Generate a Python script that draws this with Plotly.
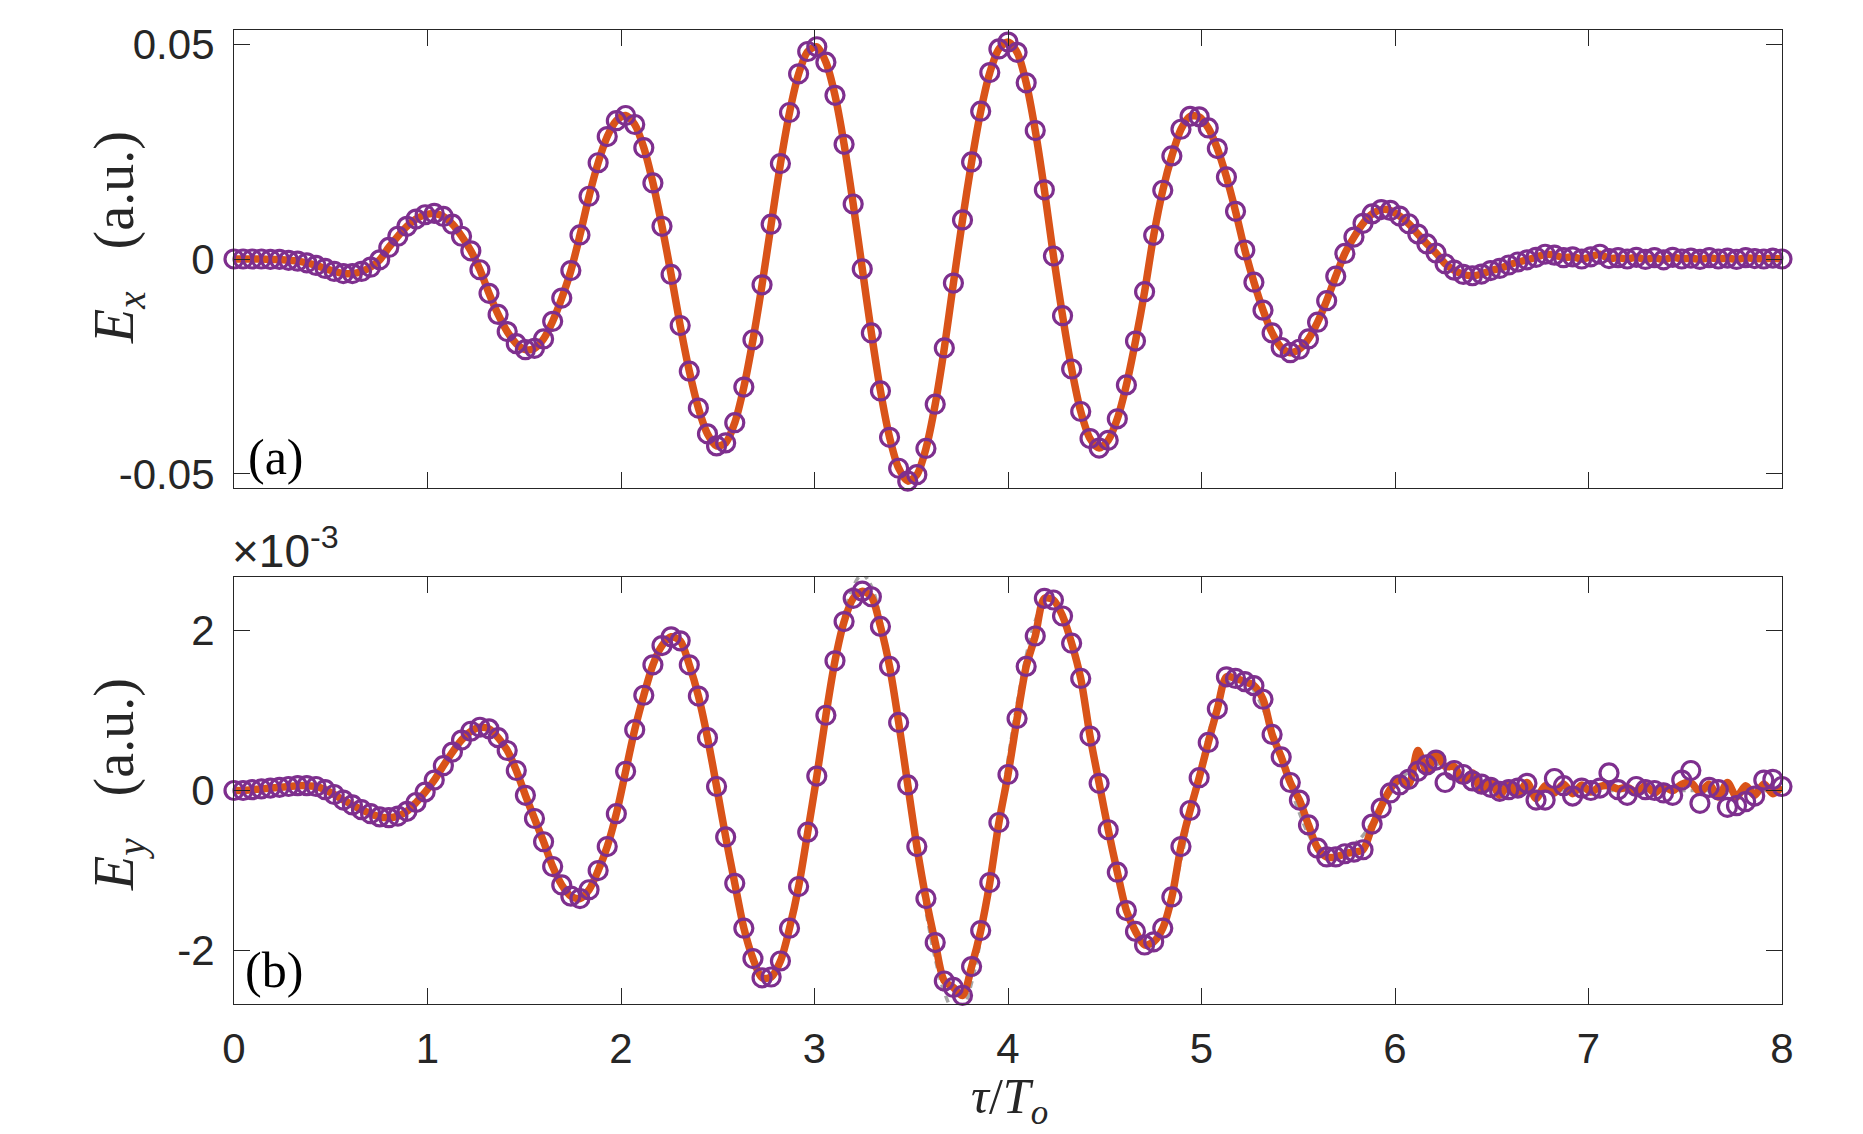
import plotly.graph_objects as go

# ---------------- data ----------------
# delay tau / T_o (uniform sampling, 171 samples)
tau = [
    0.000, 0.047, 0.094, 0.141, 0.188, 0.235, 0.282, 0.329, 0.376, 0.424,
    0.471, 0.518, 0.565, 0.612, 0.659, 0.706, 0.753, 0.800, 0.847, 0.894,
    0.941, 0.988, 1.035, 1.082, 1.129, 1.176, 1.224, 1.271, 1.318, 1.365,
    1.412, 1.459, 1.506, 1.553, 1.600, 1.647, 1.694, 1.741, 1.788, 1.835,
    1.882, 1.929, 1.976, 2.024, 2.071, 2.118, 2.165, 2.212, 2.259, 2.306,
    2.353, 2.400, 2.447, 2.494, 2.541, 2.588, 2.635, 2.682, 2.729, 2.776,
    2.824, 2.871, 2.918, 2.965, 3.012, 3.059, 3.106, 3.153, 3.200, 3.247,
    3.294, 3.341, 3.388, 3.435, 3.482, 3.529, 3.576, 3.624, 3.671, 3.718,
    3.765, 3.812, 3.859, 3.906, 3.953, 4.000, 4.047, 4.094, 4.141, 4.188,
    4.235, 4.282, 4.329, 4.376, 4.424, 4.471, 4.518, 4.565, 4.612, 4.659,
    4.706, 4.753, 4.800, 4.847, 4.894, 4.941, 4.988, 5.035, 5.082, 5.129,
    5.176, 5.224, 5.271, 5.318, 5.365, 5.412, 5.459, 5.506, 5.553, 5.600,
    5.647, 5.694, 5.741, 5.788, 5.835, 5.882, 5.929, 5.976, 6.024, 6.071,
    6.118, 6.165, 6.212, 6.259, 6.306, 6.353, 6.400, 6.447, 6.494, 6.541,
    6.588, 6.635, 6.682, 6.729, 6.776, 6.824, 6.871, 6.918, 6.965, 7.012,
    7.059, 7.106, 7.153, 7.200, 7.247, 7.294, 7.341, 7.388, 7.435, 7.482,
    7.529, 7.576, 7.624, 7.671, 7.718, 7.765, 7.812, 7.859, 7.906, 7.953,
    8.000,
]

# E_x (a.u.) - measured points (circles); line and theory coincide with it
ex = [
    0.0000, 0.0000, 0.0000, 0.0000, -0.0001, -0.0001, -0.0003, -0.0005, -0.0009, -0.0015,
    -0.0022, -0.0029, -0.0034, -0.0034, -0.0029, -0.0019, -0.0002, 0.0027, 0.0053, 0.0076,
    0.0093, 0.0103, 0.0106, 0.0099, 0.0081, 0.0053, 0.0019, -0.0025, -0.0080, -0.0129,
    -0.0169, -0.0197, -0.0211, -0.0208, -0.0186, -0.0145, -0.0091, -0.0027, 0.0056, 0.0146,
    0.0224, 0.0285, 0.0322, 0.0334, 0.0313, 0.0259, 0.0177, 0.0076, -0.0036, -0.0155,
    -0.0261, -0.0347, -0.0407, -0.0435, -0.0428, -0.0381, -0.0298, -0.0188, -0.0060, 0.0081,
    0.0222, 0.0341, 0.0431, 0.0483, 0.0494, 0.0458, 0.0381, 0.0267, 0.0128, -0.0023,
    -0.0172, -0.0307, -0.0415, -0.0487, -0.0517, -0.0502, -0.0441, -0.0338, -0.0207, -0.0056,
    0.0091, 0.0226, 0.0344, 0.0434, 0.0489, 0.0505, 0.0481, 0.0410, 0.0299, 0.0161,
    0.0007, -0.0132, -0.0256, -0.0355, -0.0418, -0.0440, -0.0422, -0.0372, -0.0293, -0.0191,
    -0.0076, 0.0055, 0.0160, 0.0240, 0.0302, 0.0332, 0.0331, 0.0305, 0.0257, 0.0191,
    0.0111, 0.0021, -0.0054, -0.0119, -0.0172, -0.0206, -0.0218, -0.0210, -0.0186, -0.0147,
    -0.0097, -0.0040, 0.0013, 0.0051, 0.0083, 0.0105, 0.0115, 0.0113, 0.0100, 0.0082,
    0.0058, 0.0035, 0.0014, -0.0011, -0.0026, -0.0036, -0.0039, -0.0035, -0.0027, -0.0022,
    -0.0014, -0.0007, -0.0002, 0.0004, 0.0011, 0.0009, 0.0003, 0.0005, 0.0000, 0.0005,
    0.0011, 0.0001, 0.0003, 0.0000, 0.0004, -0.0001, 0.0003, -0.0002, 0.0004, 0.0000,
    0.0002, -0.0001, 0.0003, 0.0000, 0.0002, -0.0001, 0.0003, 0.0001, 0.0000, 0.0002,
    0.0000,
]

# E_y in units of 1e-3 a.u. - measured points (circles)
ey_e3 = [
    0.00, 0.00, 0.01, 0.02, 0.03, 0.04, 0.05, 0.06, 0.06, 0.05,
    0.01, -0.05, -0.12, -0.18, -0.24, -0.29, -0.33, -0.34, -0.32, -0.26,
    -0.15, -0.02, 0.13, 0.31, 0.48, 0.63, 0.74, 0.79, 0.77, 0.66,
    0.50, 0.25, -0.06, -0.35, -0.64, -0.95, -1.18, -1.32, -1.35, -1.24,
    -1.00, -0.70, -0.29, 0.24, 0.76, 1.19, 1.57, 1.81, 1.92, 1.87,
    1.57, 1.18, 0.66, 0.05, -0.58, -1.16, -1.72, -2.10, -2.34, -2.33,
    -2.13, -1.72, -1.20, -0.52, 0.18, 0.94, 1.62, 2.11, 2.40, 2.49,
    2.42, 2.05, 1.55, 0.85, 0.07, -0.70, -1.35, -1.90, -2.38, -2.46,
    -2.56, -2.20, -1.75, -1.15, -0.40, 0.20, 0.90, 1.55, 1.93, 2.40,
    2.38, 2.18, 1.84, 1.40, 0.68, 0.09, -0.49, -1.02, -1.50, -1.76,
    -1.93, -1.89, -1.72, -1.33, -0.70, -0.25, 0.16, 0.60, 1.02, 1.42,
    1.40, 1.36, 1.31, 1.14, 0.70, 0.42, 0.10, -0.12, -0.43, -0.72,
    -0.83, -0.83, -0.79, -0.77, -0.74, -0.42, -0.22, -0.03, 0.07, 0.14,
    0.24, 0.32, 0.38, 0.10, 0.25, 0.20, 0.12, 0.08, 0.04, -0.01,
    0.01, 0.03, 0.09, -0.12, -0.12, 0.15, 0.06, -0.07, 0.03, 0.00,
    0.03, 0.22, 0.01, -0.06, 0.05, 0.01, 0.00, -0.03, -0.06, 0.13,
    0.25, -0.16, 0.04, 0.01, -0.21, -0.19, -0.14, -0.07, 0.13, 0.14,
    0.05,
]

# E_y (1e-3 a.u.) orange reconstruction: same as points up to tau~5.85, noisy tail after
ey_fit_tail_e3 = [
    -0.45, -0.20, 0.02, 0.14, 0.08, 0.50, 0.24, 0.46, 0.30, 0.30,
    0.12, 0.22, 0.00, 0.12, -0.06, 0.08, -0.04, 0.10, -0.10, 0.06,
    -0.03, 0.08, -0.04, 0.07, -0.02, 0.05, 0.06, 0.02, 0.04, -0.02,
    0.06, -0.03, 0.05, 0.00, 0.08, 0.10, -0.02, 0.08, -0.08, 0.10,
    -0.08, 0.06, -0.06, 0.08, -0.04, 0.05,
]
ey_fit_e3 = ey_e3[:125] + ey_fit_tail_e3

# E_y (1e-3 a.u.) gray dashed theory curve
ey_theory_e3 = [
    0.00, 0.00, 0.01, 0.02, 0.03, 0.04, 0.05, 0.06, 0.06, 0.05,
    0.01, -0.05, -0.12, -0.18, -0.24, -0.29, -0.33, -0.34, -0.32, -0.26,
    -0.15, -0.02, 0.13, 0.31, 0.48, 0.63, 0.74, 0.79, 0.77, 0.66,
    0.48, 0.23, -0.08, -0.38, -0.68, -0.98, -1.20, -1.33, -1.35, -1.24,
    -1.00, -0.68, -0.27, 0.24, 0.76, 1.21, 1.58, 1.82, 1.93, 1.86,
    1.60, 1.20, 0.66, 0.03, -0.60, -1.18, -1.72, -2.12, -2.35, -2.36,
    -2.15, -1.75, -1.20, -0.50, 0.22, 0.98, 1.68, 2.20, 2.55, 2.70,
    2.55, 2.15, 1.58, 0.85, 0.03, -0.78, -1.50, -2.10, -2.52, -2.74,
    -2.72, -2.40, -1.85, -1.15, -0.38, 0.38, 1.08, 1.68, 2.12, 2.38,
    2.40, 2.22, 1.86, 1.36, 0.76, 0.12, -0.50, -1.04, -1.48, -1.78,
    -1.93, -1.90, -1.70, -1.34, -0.86, -0.32, 0.22, 0.70, 1.08, 1.32,
    1.42, 1.38, 1.25, 1.02, 0.72, 0.38, 0.04, -0.28, -0.55, -0.74,
    -0.83, -0.84, -0.78, -0.68, -0.56, -0.40, -0.22, -0.04, 0.12, 0.24,
    0.32, 0.35, 0.34, 0.30, 0.24, 0.18, 0.12, 0.07, 0.03, 0.00,
    -0.02, -0.03, -0.03, -0.02, -0.01, 0.00, 0.01, 0.01, 0.00, 0.00,
    0.00, 0.00, 0.00, 0.00, 0.00, 0.00, 0.00, 0.00, 0.00, 0.00,
    0.00, 0.00, 0.00, 0.00, 0.00, 0.00, 0.00, 0.00, 0.00, 0.00,
    0.00,
]

x_ticks = [0, 1, 2, 3, 4, 5, 6, 7, 8]
x_ticktext = ["0", "1", "2", "3", "4", "5", "6", "7", "8"]
ex_ticks = [-0.05, 0, 0.05]
ex_ticktext = ["-0.05", "0", "0.05"]
ey_ticks_e3 = [-2, 0, 2]
ey_ticktext = ["-2", "0", "2"]
E3 = 1e-3

# ---------------- styling ----------------
W, H = 1863, 1134
PURPLE = "#7E2F8E"
ORANGE = "#D95319"
GRAY = "#A6A6A6"
AXC = "#262626"
SANS = "Liberation Sans, Arial, Helvetica, sans-serif"
SERIF = "Liberation Serif, Times New Roman, serif"

fig = go.Figure()

def add_panel(xa, ya, y_pts, y_fit, y_th):
    fig.add_trace(go.Scatter(x=tau, y=y_th, mode="lines", xaxis=xa, yaxis=ya,
                             line=dict(color=GRAY, width=3.5, dash="7px,5px", shape="spline"),
                             showlegend=False, hoverinfo="skip"))
    fig.add_trace(go.Scatter(x=tau, y=y_fit, mode="lines", xaxis=xa, yaxis=ya,
                             line=dict(color=ORANGE, width=7.5, shape="spline", smoothing=0.8),
                             showlegend=False))
    fig.add_trace(go.Scatter(x=tau, y=y_pts, mode="markers", xaxis=xa, yaxis=ya,
                             marker=dict(symbol="circle-open", size=18, color=PURPLE,
                                         line=dict(width=3.2, color=PURPLE)),
                             cliponaxis=False, showlegend=False))

add_panel("x", "y", ex, ex, ex)
add_panel("x2", "y2", [v * E3 for v in ey_e3], [v * E3 for v in ey_fit_e3],
          [v * E3 for v in ey_theory_e3])

L, R = 234, 1782
top_a, bot_a = 30, 488
top_b, bot_b = 577, 1004

axis_common = dict(showline=True, mirror="ticks", linecolor=AXC, linewidth=1.2,
                   ticks="inside", ticklen=16, tickwidth=1.2, tickcolor=AXC,
                   showgrid=False, zeroline=False, automargin=False,
                   tickfont=dict(family=SANS, size=42, color=AXC))

fig.update_layout(
    width=W, height=H, margin=dict(l=0, r=0, t=0, b=0),
    paper_bgcolor="white", plot_bgcolor="white",
    xaxis=dict(domain=[L / W, R / W], anchor="y", range=[0, 8],
               tickvals=x_ticks, ticktext=x_ticktext, showticklabels=False, **axis_common),
    yaxis=dict(domain=[1 - bot_a / H, 1 - top_a / H], anchor="x", range=[-0.0533, 0.0533],
               tickvals=ex_ticks, ticktext=ex_ticktext, ticklabelstandoff=10, **axis_common),
    xaxis2=dict(domain=[L / W, R / W], anchor="y2", range=[0, 8],
                tickvals=x_ticks, ticktext=x_ticktext, ticklabelstandoff=7, **axis_common),
    yaxis2=dict(domain=[1 - bot_b / H, 1 - top_b / H], anchor="x2",
                range=[-2.667e-3, 2.667e-3],
                tickvals=[v * E3 for v in ey_ticks_e3], ticktext=ey_ticktext,
                ticklabelstandoff=10, **axis_common),
)

ann = []
ann.append(dict(text="<i>E<sub>x</sub></i>&nbsp;&nbsp;&nbsp;(a.u.)", x=118 / W, y=1 - 238 / H,
                xref="paper", yref="paper", textangle=-90, showarrow=False,
                xanchor="center", yanchor="middle",
                font=dict(family=SERIF, size=56, color=AXC)))
ann.append(dict(text="<i>E<sub>y</sub></i>&nbsp;&nbsp;&nbsp;(a.u.)", x=118 / W, y=1 - 785 / H,
                xref="paper", yref="paper", textangle=-90, showarrow=False,
                xanchor="center", yanchor="middle",
                font=dict(family=SERIF, size=56, color=AXC)))
ann.append(dict(text="<i>τ</i>/<i>T<sub>o</sub></i>", x=1010 / W, y=0.0,
                xref="paper", yref="paper", showarrow=False,
                xanchor="center", yanchor="bottom",
                font=dict(family=SERIF, size=50, color=AXC)))
ann.append(dict(text="(a)", x=246 / W, y=1 - 457 / H, xref="paper", yref="paper",
                showarrow=False, xanchor="left", yanchor="middle",
                font=dict(family=SERIF, size=50, color="black")))
ann.append(dict(text="(b)", x=243 / W, y=1 - 970 / H, xref="paper", yref="paper",
                showarrow=False, xanchor="left", yanchor="middle",
                font=dict(family=SERIF, size=50, color="black")))
ann.append(dict(text="×10<sup>-3</sup>", x=230 / W, y=1 - 548 / H, xref="paper", yref="paper",
                showarrow=False, xanchor="left", yanchor="middle",
                font=dict(family=SANS, size=46, color=AXC)))
fig.update_layout(annotations=ann)

fig.write_html("out.html")
